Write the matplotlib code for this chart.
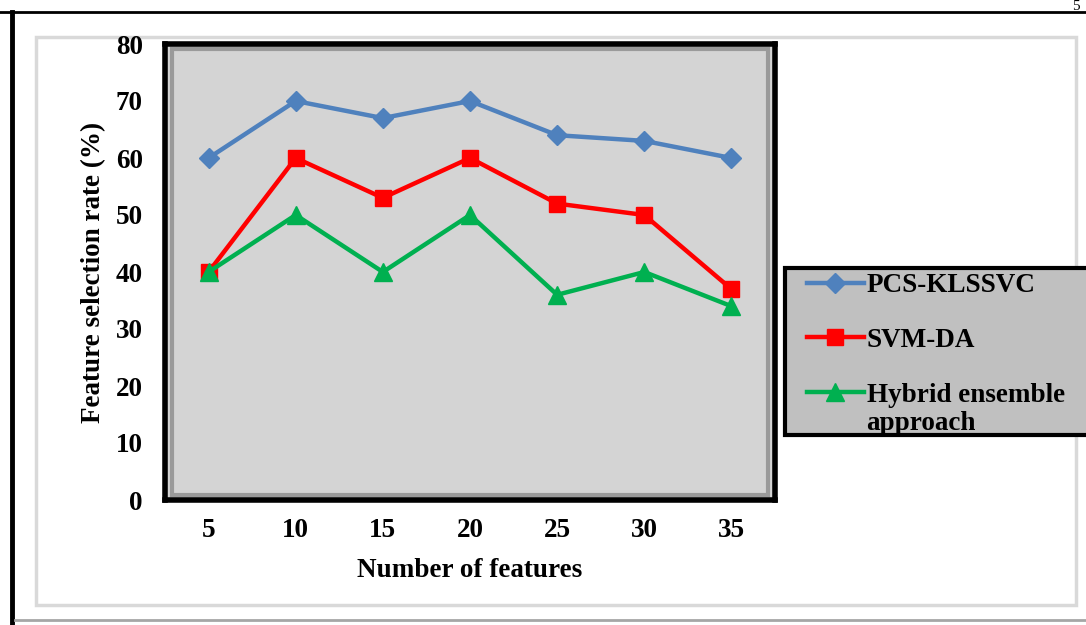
import matplotlib.pyplot as plt
from matplotlib.patches import Rectangle
from matplotlib.lines import Line2D

# data
features = ["5", "10", "15", "20", "25", "30", "35"]
pcs_klssvc = [60, 70, 67, 70, 64, 63, 60]
svm_da = [40, 60, 53, 60, 52, 50, 37]
hybrid = [40, 50, 40, 50, 36, 40, 34]

plt.rcParams["font.family"] = "Liberation Serif"
plt.rcParams["font.weight"] = "bold"
FS = 19.5

W, H = 1086, 625
fig = plt.figure(figsize=(10.86, 6.25), dpi=100)


def fx(px):
    return px / W


def fy(py):
    return 1 - py / H


# outer frame of the figure box (black left/top, light bevel inside)
fig.add_artist(Line2D([fx(12), fx(12)], [0, fy(12)], color="black", lw=3.5,
                      transform=fig.transFigure))
fig.add_artist(Line2D([0, 1], [fy(12), fy(12)], color="black", lw=2,
                      transform=fig.transFigure))
fig.add_artist(Line2D([fx(15), 1], [fy(620), fy(620)], color="#a6a6a6", lw=2,
                      transform=fig.transFigure))
fig.add_artist(Rectangle((fx(36), fy(605)), fx(1040), 568 / H, fill=False,
                         ec="#d9d9d9", lw=2.5, transform=fig.transFigure, zorder=-1))
fig.text(fx(1080), 1.0, "5", ha="right", va="top", fontsize=11, fontweight="normal")

ax = fig.add_axes([fx(165), fy(500), fx(610), 456 / H])
ax.set_facecolor("#d4d4d4")

x = range(len(features))
l1, = ax.plot(x, pcs_klssvc, color="#4F81BD", lw=3.2, marker="D", ms=10)
l2, = ax.plot(x, svm_da, color="#FF0000", lw=3.2, marker="s", ms=12)
l3, = ax.plot(x, hybrid, color="#00B050", lw=3.2, marker="^", ms=13)

ax.set_xlim(-0.5, 6.5)
ax.set_ylim(0, 80)
ax.set_yticks(range(0, 81, 10))
ax.set_xticks(list(x))
ax.set_xticklabels(features)
ax.tick_params(length=0, labelsize=FS, pad=13)
ax.tick_params(axis="y", pad=16)

for s in ax.spines.values():
    s.set_linewidth(4)
    s.set_color("black")
# inner bevel of the plot area
ax.add_patch(Rectangle((0.012, 0.012), 0.976, 0.976, transform=ax.transAxes, fill=False,
                       ec="#9a9a9a", lw=3, zorder=0.5))

ax.set_xlabel("Number of features", fontsize=FS, fontweight="bold", labelpad=11)
ax.set_ylabel("Feature selection rate (%)", fontsize=FS, fontweight="bold", labelpad=7)

# legend box
fig.add_artist(Rectangle((fx(785), fy(435)), fx(310), 167 / H, fc="#c0c0c0",
                         ec="black", lw=3, transform=fig.transFigure, zorder=2))
leg = fig.legend([l1, l2, l3], ["PCS-KLSSVC", "SVM-DA", "Hybrid ensemble"],
                 loc="upper left", bbox_to_anchor=(fx(807), fy(273)),
                 fontsize=FS, frameon=False, handlelength=2.1,
                 handletextpad=0.1, labelspacing=1.1, borderpad=0.0,
                 borderaxespad=0)
leg.set_zorder(5)
fig.text(fx(866), fy(423), "approach", fontsize=FS, fontweight="bold",
         ha="left", va="center", zorder=6)

fig.savefig("out.png", dpi=100)
